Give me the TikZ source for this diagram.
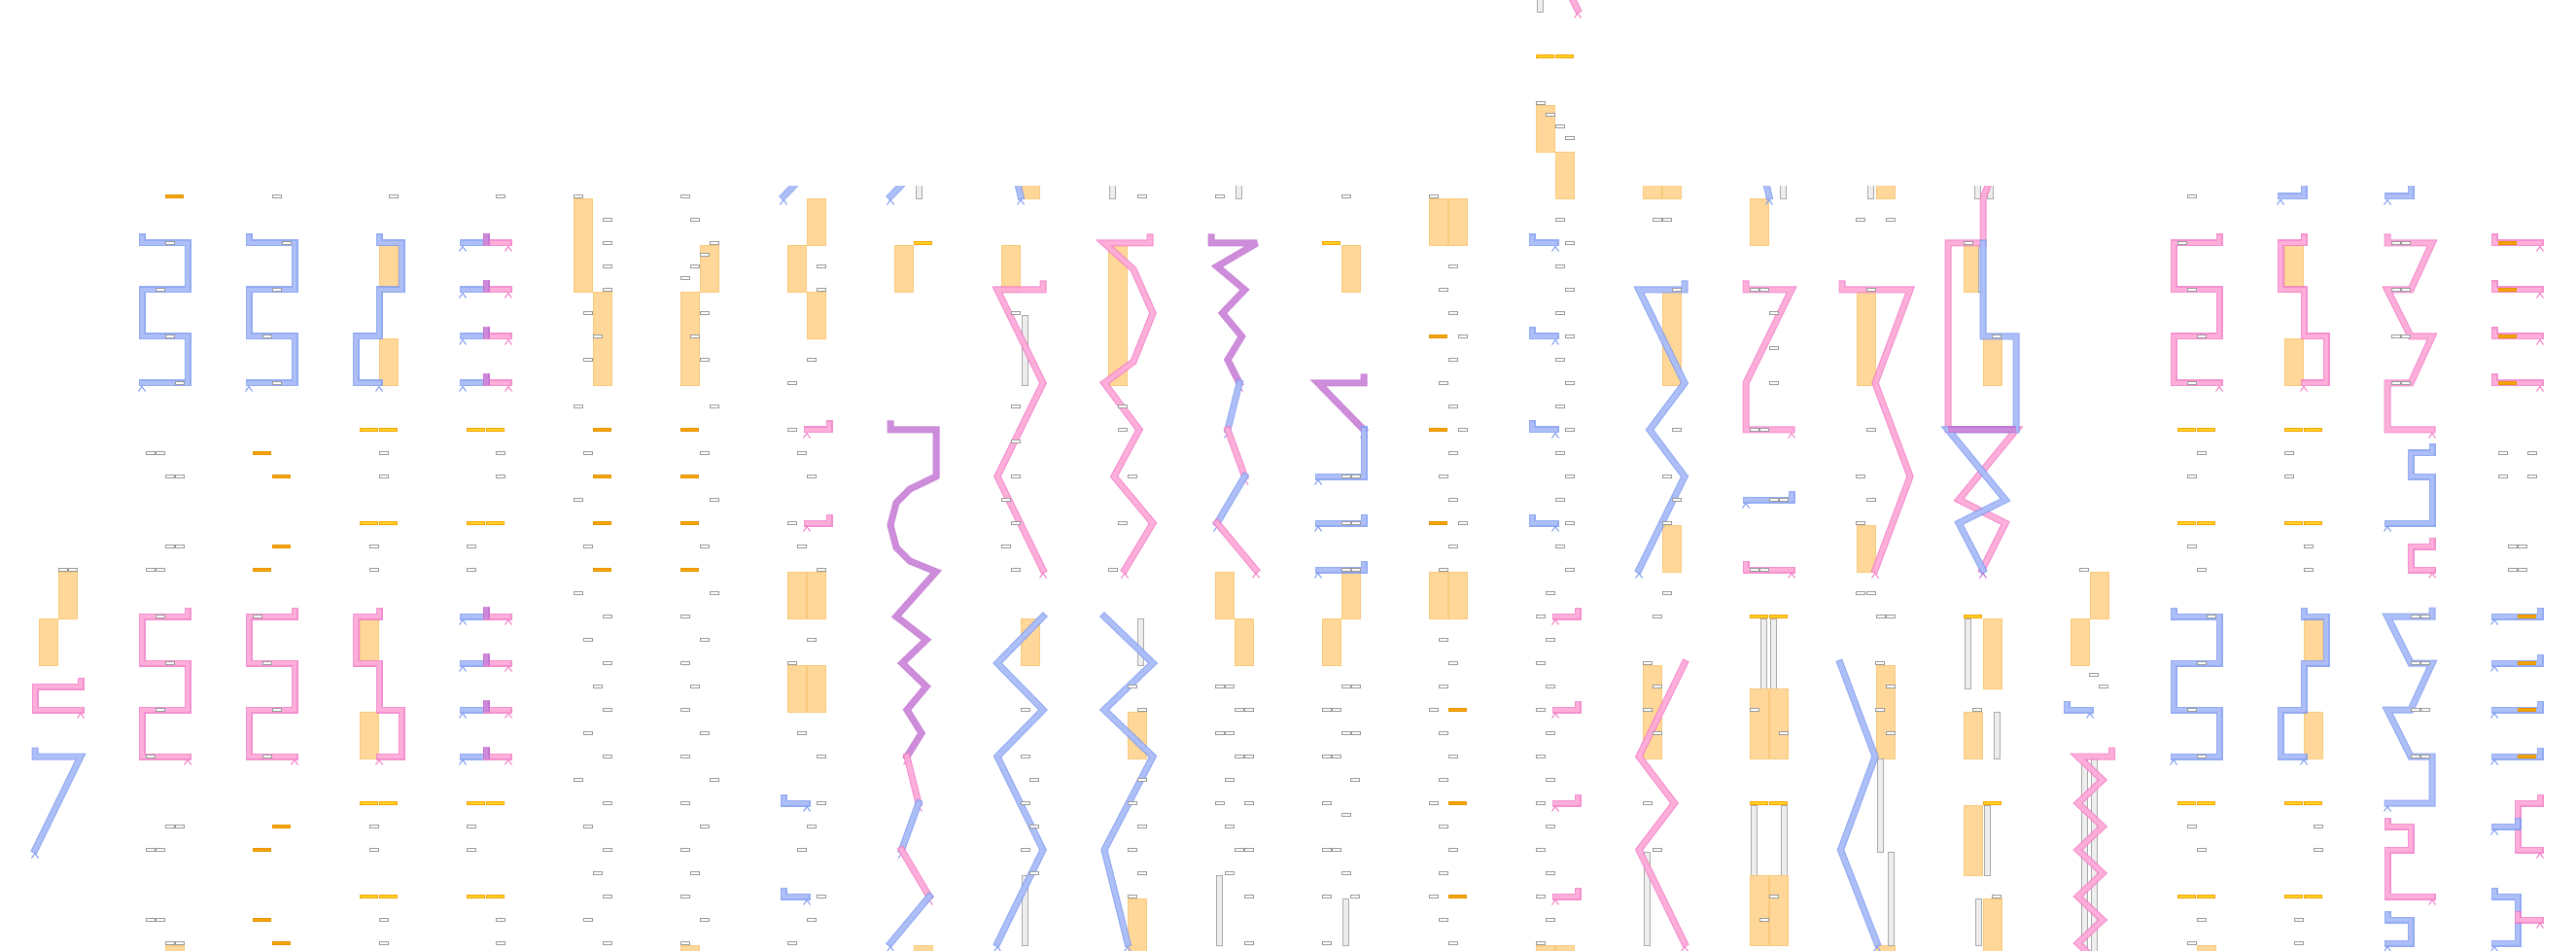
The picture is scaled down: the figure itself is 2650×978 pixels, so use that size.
\documentclass[tikz,border=0pt]{standalone}
\definecolor{bdk}{HTML}{7F9CF0}
\definecolor{blt}{HTML}{B3C2FA}
\definecolor{pdk}{HTML}{F27DC8}
\definecolor{plt}{HTML}{FFB3DB}
\definecolor{udk}{HTML}{C070D0}
\definecolor{ult}{HTML}{D08EDC}
\definecolor{orf}{HTML}{FED799}
\definecolor{ord}{HTML}{F9C97C}
\definecolor{dsf}{HTML}{F5A30A}
\definecolor{dsd}{HTML}{E59400}
\definecolor{ylf}{HTML}{FFD21F}
\definecolor{gbd}{HTML}{999999}
\definecolor{thf}{HTML}{EEEEEE}
\definecolor{thd}{HTML}{AAAAAA}
\tikzset{
  pathbase/.style={line width=0.6pt, double distance=2.3pt, line join=miter, miter limit=3, line cap=rect, opacity=0.85},
  bp/.style={pathbase, draw=bdk, double=blt},
  pp/.style={pathbase, draw=pdk, double=plt},
  up/.style={pathbase, draw=udk, double=ult},
  gbox/.style={draw=gbd, fill=white, line width=0.5pt},
  odash/.style={draw=dsd, fill=dsf, line width=0.4pt},
  ydash/.style={draw=dsf, fill=ylf, line width=0.4pt},
  orect/.style={fill=orf, draw=ord, line width=0.4pt},
  thinbar/.style={fill=thf, draw=thd, line width=0.4pt},
  bc/.style={draw=bdk, line width=0.5pt},
  pc/.style={draw=pdk, line width=0.5pt},
  uc/.style={draw=udk, line width=0.5pt}
}
\newcommand\gbx[2]{\draw[gbox] ({#1-4.5},{#2-1.3}) rectangle ({#1+4.5},{#2+1.3});}
\newcommand\pax[1]{\gbx{4.5}{#1}\gbx{14.5}{#1}}
\newcommand\pbx[1]{\gbx{24.5}{#1}\gbx{34.5}{#1}}
\newcommand\odx[2]{\draw[odash] (#1,{#2-1.5}) rectangle ({#1+18.5},{#2+1.5});}
\newcommand\ysx[2]{\draw[ydash] (#1,{#2-1.5}) rectangle ({#1+18.5},{#2+1.5});}
\newcommand\ydx[1]{\ysx{0}{#1}\ysx{20}{#1}}
\newcommand\orx[3]{\draw[orect] (#1,#2) rectangle ({#1+19},#3);}
\newcommand\thx[3]{\draw[thinbar] (#1,#2) rectangle ({#1+6},#3);}
\newcommand\carx[3]{\draw[#1] ({#2-3.5},{#3+8.5}) -- (#2,{#3+3.5}) -- ({#2+3.5},{#3+8.5});}
\newcommand\teex[1]{\draw[bp] (20,{#1-6}) -- (20,#1) -- (-4,#1); \draw[pp] (20,{#1-6}) -- (20,#1) -- (43,#1);
  \draw[up,line cap=butt] (20,{#1-10}) -- (20,{#1+2}); \carx{bc}{-4}{#1}\carx{pc}{43}{#1}}
\begin{document}
\begin{tikzpicture}[x=0.5pt,y=-0.5pt]
\useasboundingbox (0,0) rectangle (2650,978);
\clip (0,0) rectangle (2650,978);
\begin{scope}
\clip (0,192) rectangle (2650,978);
% ---- col 0
\begin{scope}[shift={(40,0)}]
\orx{20}{588}{636}\orx{0}{636}{684}
\draw[pp] (43,700) -- (43,706) -- (-4,706) -- (-4,730) -- (43,730); \carx{pc}{43}{730}
\draw[bp] (-4,772) -- (-4,778) -- (43,778) -- (-4,874); \carx{bc}{-4}{874}
\pbx{586}
\end{scope}
% ---- col 1
\begin{scope}[shift={(150,0)}]
\orx{20}{972}{990}
\odx{20}{202}
\draw[bp] (-4,244) -- (-4,250) -- (43,250) -- (43,298) -- (-4,298) -- (-4,346) -- (43,346) -- (43,394) -- (-4,394); \carx{bc}{-4}{394}
\gbx{24.5}{250}\gbx{14.5}{298}\gbx{24.5}{346}\gbx{34.5}{394}
\pax{466}\pbx{490}\pbx{562}\pax{586}
\draw[pp] (43,628) -- (43,634) -- (-4,634) -- (-4,682) -- (43,682) -- (43,730) -- (-4,730) -- (-4,778) -- (43,778); \carx{pc}{43}{778}
\gbx{14.5}{634}\gbx{24.5}{682}\gbx{14.5}{730}\gbx{4.5}{778}
\pbx{850}\pax{874}\pax{946}\pbx{970}
\end{scope}
% ---- col 2
\begin{scope}[shift={(260,0)}]
\gbx{24.5}{202}
\draw[bp] (-4,244) -- (-4,250) -- (43,250) -- (43,298) -- (-4,298) -- (-4,346) -- (43,346) -- (43,394) -- (-4,394); \carx{bc}{-4}{394}
\gbx{34.5}{250}\gbx{24.5}{298}\gbx{14.5}{346}\gbx{24.5}{394}
\odx{0}{466}\odx{20}{490}\odx{20}{562}\odx{0}{586}
\draw[pp] (43,628) -- (43,634) -- (-4,634) -- (-4,682) -- (43,682) -- (43,730) -- (-4,730) -- (-4,778) -- (43,778); \carx{pc}{43}{778}
\gbx{4.5}{634}\gbx{14.5}{682}\gbx{24.5}{730}\gbx{14.5}{778}
\odx{20}{850}\odx{0}{874}\odx{0}{946}\odx{20}{970}
\end{scope}
% ---- col 3
\begin{scope}[shift={(370,0)}]
\orx{20}{252}{300}\orx{20}{348}{396}
\draw[bp] (20,244) -- (20,250) -- (43,250) -- (43,298) -- (20,298) -- (20,346) -- (-4,346) -- (-4,394) -- (20,394); \carx{bc}{20}{394}
\gbx{34.5}{202}
\ydx{442}\gbx{24.5}{466}\gbx{24.5}{490}\ydx{538}\gbx{14.5}{562}\gbx{14.5}{586}
\orx{0}{636}{684}\orx{0}{732}{780}
\draw[pp] (20,628) -- (20,634) -- (-4,634) -- (-4,682) -- (20,682) -- (20,730) -- (43,730) -- (43,778) -- (20,778); \carx{pc}{20}{778}
\ydx{826}\gbx{14.5}{850}\gbx{14.5}{874}\ydx{922}\gbx{24.5}{946}\gbx{24.5}{970}
\end{scope}
% ---- col 4
\begin{scope}[shift={(480,0)}]
\gbx{34.5}{202}
\teex{250}\teex{298}\teex{346}\teex{394}
\ydx{442}\gbx{34.5}{466}\gbx{34.5}{490}\ydx{538}\gbx{4.5}{562}\gbx{4.5}{586}
\teex{634}\teex{682}\teex{730}\teex{778}
\ydx{826}\gbx{4.5}{850}\gbx{4.5}{874}\ydx{922}\gbx{34.5}{946}\gbx{34.5}{970}
\end{scope}
% ---- col 5
\begin{scope}[shift={(590,0)}]
\orx{0}{204}{300}\orx{20}{300}{396}
\gbx{4.5}{202}\gbx{34.5}{226}\gbx{34.5}{250}\gbx{34.5}{274}\gbx{34.5}{298}\gbx{14.5}{322}\gbx{24.5}{346}\gbx{14.5}{370}\gbx{4.5}{418}
\odx{20}{442}\gbx{14.5}{466}\odx{20}{490}\gbx{4.5}{514}\odx{20}{538}\gbx{14.5}{562}\odx{20}{586}
\gbx{4.5}{610}\gbx{34.5}{634}\gbx{14.5}{658}\gbx{34.5}{682}\gbx{24.5}{706}\gbx{34.5}{730}\gbx{14.5}{754}\gbx{34.5}{778}
\gbx{4.5}{802}\gbx{34.5}{826}\gbx{14.5}{850}\gbx{34.5}{874}\gbx{24.5}{898}\gbx{34.5}{922}\gbx{14.5}{946}\gbx{34.5}{970}
\end{scope}
% ---- col 6
\begin{scope}[shift={(700,0)}]
\orx{20}{252}{300}\orx{0}{300}{396}\orx{0}{972}{990}
\gbx{4.5}{202}\gbx{14.5}{226}\gbx{34.5}{250}\gbx{24.5}{262}\gbx{14.5}{274}\gbx{4.5}{286}\gbx{24.5}{322}\gbx{14.5}{346}\gbx{24.5}{370}\gbx{34.5}{418}
\odx{0}{442}\gbx{24.5}{466}\odx{0}{490}\gbx{34.5}{514}\odx{0}{538}\gbx{24.5}{562}\odx{0}{586}
\gbx{34.5}{610}\gbx{4.5}{634}\gbx{24.5}{658}\gbx{4.5}{682}\gbx{14.5}{706}\gbx{4.5}{730}\gbx{24.5}{754}\gbx{4.5}{778}
\gbx{34.5}{802}\gbx{4.5}{826}\gbx{24.5}{850}\gbx{4.5}{874}\gbx{14.5}{898}\gbx{4.5}{922}\gbx{24.5}{946}\gbx{4.5}{970}
\end{scope}
% ---- col 7
\begin{scope}[shift={(810,0)}]
\orx{20}{204}{252}\orx{0}{252}{300}\orx{20}{300}{348}
\orx{0}{588}{636}\orx{20}{588}{636}\orx{0}{684}{732}\orx{20}{684}{732}
\draw[bp] (43,154) -- (-4,202); \carx{bc}{-4}{202}
\draw[pp] (43,436) -- (43,442) -- (20,442); \carx{pc}{20}{442}
\draw[pp] (43,532) -- (43,538) -- (20,538); \carx{pc}{20}{538}
\draw[bp] (-4,820) -- (-4,826) -- (20,826); \carx{bc}{20}{826}
\draw[bp] (-4,916) -- (-4,922) -- (20,922); \carx{bc}{20}{922}
\gbx{34.5}{274}\gbx{34.5}{298}\gbx{24.5}{370}\gbx{4.5}{394}\gbx{4.5}{442}\gbx{14.5}{466}\gbx{24.5}{490}\gbx{4.5}{538}\gbx{14.5}{562}\gbx{34.5}{586}
\gbx{24.5}{658}\gbx{4.5}{682}\gbx{14.5}{754}\gbx{34.5}{778}\gbx{34.5}{826}\gbx{24.5}{850}\gbx{14.5}{874}\gbx{34.5}{922}\gbx{24.5}{946}\gbx{4.5}{970}
\end{scope}
% ---- col 8
\begin{scope}[shift={(920,0)}]
\thx{22}{186}{204}
\orx{0}{252}{300}\orx{20}{972}{990}
\ysx{20}{250}
\draw[bp] (43,154) -- (-4,202); \carx{bc}{-4}{202}
\draw[up] (-4,436) -- (-4,442) -- (43,442) -- (43,490) -- (16,503) -- (2,517) -- (-4,540) -- (2,563) -- (16,577) -- (43,588) -- (2,634) -- (33,658) -- (8,682) -- (33,706) -- (13,730) -- (28,754) -- (13,778); \carx{pc}{13}{778}
\draw[pp] (13,778) -- (25,826); \carx{pc}{25}{826}
\draw[bp] (25,826) -- (7.5,874); \carx{bc}{7.5}{874}
\draw[pp] (7.5,874) -- (36,922); \carx{pc}{36}{922}
\draw[bp] (36,922) -- (-4,970); \carx{bc}{-4}{970}
\end{scope}
% ---- col 9
\begin{scope}[shift={(1030,0)}]
\orx{20}{186}{204}\orx{0}{252}{300}\orx{20}{636}{684}
\thx{21}{324}{396}\thx{21}{900}{972}
\draw[bp] (-3,106) -- (20,202); \carx{bc}{20}{202}
\draw[pp] (43,292) -- (43,298) -- (-4,298) -- (43,394) -- (-4,490) -- (43,586); \carx{pc}{43}{586}
\draw[bp] (43,634) -- (-4,682) -- (43,730) -- (-4,778) -- (43,874) -- (-4,970); \carx{bc}{-4}{970}
\gbx{14.5}{322}\gbx{14.5}{418}\gbx{14.5}{454}\gbx{14.5}{490}\gbx{4.5}{514}\gbx{14.5}{538}\gbx{4.5}{562}\gbx{14.5}{586}
\gbx{24.5}{730}\gbx{24.5}{778}\gbx{34}{802}\gbx{24.5}{826}\gbx{34}{850}\gbx{24.5}{874}\gbx{34}{898}
\end{scope}
% ---- col 10
\begin{scope}[shift={(1140,0)}]
\thx{1.5}{186}{204}\thx{30}{636}{684}
\orx{0}{252}{396}\orx{20}{732}{780}\orx{20}{924}{990}
\draw[pp] (43,244) -- (43,250) -- (-4,250) -- (26,277) -- (46,322) -- (26,372) -- (-4,394) -- (32,442) -- (6,490) -- (46,538) -- (17,586); \carx{pc}{17}{586}
\draw[bp] (-4,634) -- (46,682) -- (-4,730) -- (46,778) -- (-4,874) -- (20,970); \carx{bc}{20}{970}
\gbx{34.5}{202}\gbx{14.5}{418}\gbx{14.5}{442}\gbx{24.5}{490}\gbx{14.5}{538}\gbx{4.5}{586}
\gbx{24.5}{706}\gbx{34.5}{730}\gbx{34.5}{802}\gbx{24.5}{826}\gbx{34.5}{850}\gbx{24.5}{874}\gbx{34.5}{898}\gbx{24.5}{922}
\end{scope}
% ---- col 11
\begin{scope}[shift={(1250,0)}]
\thx{21}{186}{204}\thx{1}{900}{972}
\orx{0}{588}{636}\orx{20}{636}{684}
\draw[up] (-4,244) -- (-4,250) -- (43,250) -- (2,274) -- (30.5,298) -- (7.5,322) -- (27.5,346) -- (13,370) -- (25,394); \carx{pc}{25}{394}
\draw[bp] (25,394) -- (13,442); \carx{bc}{13}{442}
\draw[pp] (13,442) -- (30.5,490); \carx{pc}{30.5}{490}
\draw[bp] (30.5,490) -- (2,538); \carx{bc}{2}{538}
\draw[pp] (2,538) -- (42,586); \carx{pc}{42}{586}
\gbx{4.5}{202}
\pax{706}\pbx{730}\pax{754}\pbx{778}\gbx{14.5}{802}\gbx{4.5}{826}\gbx{34.5}{826}\gbx{14.5}{850}\pbx{874}\gbx{14.5}{898}\gbx{34.5}{922}\gbx{34.5}{970}
\end{scope}
% ---- col 12
\begin{scope}[shift={(1360,0)}]
\orx{20}{252}{300}\orx{20}{588}{636}\orx{0}{636}{684}
\thx{21}{924}{972}
\ysx{0}{250}
\draw[up] (43,388) -- (43,394) -- (-4,394) -- (43,442); \carx{pc}{43}{442}
\draw[bp] (43,442) -- (43,490) -- (-4,490); \carx{bc}{-4}{490}
\draw[bp] (43,532) -- (43,538) -- (-4,538); \carx{bc}{-4}{538}
\draw[bp] (43,580) -- (43,586) -- (-4,586); \carx{bc}{-4}{586}
\gbx{24.5}{202}\pbx{490}\pbx{538}\pbx{586}
\pbx{706}\pax{730}\pbx{754}\pax{778}\gbx{34}{802}\gbx{4.5}{826}\gbx{24.5}{838}\pax{874}\gbx{24.5}{898}\gbx{4.5}{922}\gbx{34}{922}\gbx{4.5}{970}
\end{scope}
% ---- col 13
\begin{scope}[shift={(1470,0)}]
\orx{0}{204}{252}\orx{20}{204}{252}\orx{0}{588}{636}\orx{20}{588}{636}
\gbx{4.5}{202}\gbx{24.5}{274}\gbx{14.5}{298}\gbx{24.5}{322}\gbx{34.5}{346}\odx{0}{346}\gbx{24.5}{370}\gbx{14.5}{394}\gbx{24.5}{418}
\odx{0}{442}\gbx{34.5}{442}\gbx{24.5}{466}\gbx{14.5}{490}\gbx{24.5}{514}\odx{0}{538}\gbx{34.5}{538}\gbx{24.5}{562}\gbx{14.5}{586}
\gbx{14.5}{658}\gbx{24.5}{682}\gbx{14.5}{706}\gbx{4.5}{730}\odx{20}{730}\gbx{14.5}{754}\gbx{24.5}{778}\gbx{14.5}{802}
\gbx{4.5}{826}\odx{20}{826}\gbx{14.5}{850}\gbx{24.5}{874}\gbx{14.5}{898}\gbx{4.5}{922}\odx{20}{922}\gbx{14.5}{946}\gbx{24.5}{970}
\end{scope}
% ---- col 15
\begin{scope}[shift={(1690,0)}]
\orx{0}{186}{204}\orx{20}{186}{204}\orx{20}{300}{396}\orx{20}{540}{588}\orx{0}{684}{780}
\thx{1}{876}{972}
\draw[bp] (43,292) -- (43,298) -- (-4,298) -- (43,394) -- (7,442) -- (43,490) -- (-4,586); \carx{bc}{-4}{586}
\draw[pp] (43,682) -- (-4,778) -- (32.5,826) -- (-4,874) -- (43,970); \carx{pc}{43}{970}
\gbx{14.5}{226}\gbx{24.5}{226}\gbx{34.5}{298}\gbx{34.5}{442}\gbx{24.5}{490}\gbx{34.5}{514}\gbx{24.5}{538}
\gbx{24.5}{610}\gbx{14.5}{634}\gbx{4.5}{682}\gbx{14.5}{706}\gbx{4.5}{730}\gbx{14.5}{754}\gbx{4.5}{826}\gbx{14.5}{874}
\end{scope}
% ---- col 16
\begin{scope}[shift={(1800,0)}]
\thx{31}{186}{204}\orx{0}{204}{252}
\thx{11}{636}{708}\thx{21}{636}{708}\orx{0}{708}{780}\orx{20}{708}{780}
\thx{1}{828}{900}\thx{32}{828}{900}\orx{0}{900}{972}\orx{20}{900}{972}
\draw[bp] (-3,106) -- (20,202); \carx{bc}{20}{202}
\draw[pp] (-4,292) -- (-4,298) -- (43,298) -- (-4,394) -- (-4,442) -- (43,442); \carx{pc}{43}{442}
\draw[bp] (43,508) -- (43,514) -- (-4,514); \carx{bc}{-4}{514}
\draw[pp] (-4,580) -- (-4,586) -- (43,586); \carx{pc}{43}{586}
\ydx{634}\ydx{826}
\pax{298}\gbx{24.5}{322}\gbx{24.5}{358}\gbx{24.5}{394}\pax{442}\pbx{514}\pax{586}\gbx{4.5}{730}\gbx{34.5}{754}\gbx{24.5}{922}\gbx{14.5}{946}
\end{scope}
% ---- col 17
\begin{scope}[shift={(1910,0)}]
\thx{11}{186}{204}\orx{20}{186}{204}
\orx{0}{300}{396}\orx{0}{540}{588}\orx{20}{684}{780}\orx{20}{972}{990}
\thx{21}{780}{876}\thx{32}{876}{972}
\draw[pp] (-15,292) -- (-15,298) -- (55,298) -- (19,394) -- (55,490) -- (19,586); \carx{pc}{19}{586}
\draw[bp] (-17,682) -- (19,778) -- (-16.5,874) -- (21,970); \carx{bc}{21}{970}
\gbx{4}{226}\gbx{34.5}{226}\gbx{14.5}{298}\gbx{14.5}{442}\gbx{4}{490}\gbx{14.5}{514}\gbx{4}{538}\gbx{4}{610}\gbx{14.5}{610}\pbx{634}
\gbx{24}{682}\gbx{34.5}{706}\gbx{24}{730}\gbx{34.5}{754}
\end{scope}
% ---- col 18
\begin{scope}[shift={(2020,0)}]
\thx{11}{186}{204}\thx{24}{186}{204}
\orx{0}{252}{300}\thx{15}{252}{300}\orx{20}{348}{396}
\ysx{0}{634}\thx{1.5}{636}{708}\orx{20}{636}{708}\orx{0}{732}{780}\thx{31}{732}{780}
\ysx{20}{826}\orx{0}{828}{900}\thx{21.5}{828}{900}\orx{20}{924}{990}\thx{12}{924}{972}
\draw[pp] (30,178) -- (20,204) -- (20,250) -- (-16,250) -- (-16,442) -- (54,442) -- (-5,514) -- (43,538) -- (19,586);
\draw[bp] (20,250) -- (20,346) -- (54,346) -- (54,442) -- (-16,442) -- (43,514) -- (-5,538) -- (20,586);
\draw[up,line cap=butt] (-16,442) -- (54,442);
\carx{uc}{20}{586}
\gbx{4.5}{250}\gbx{34}{346}\gbx{14}{730}\gbx{34}{922}
\end{scope}
% ---- col 19
\begin{scope}[shift={(2130,0)}]
\orx{20}{588}{636}\orx{0}{636}{684}
\thx{11.5}{780}{990}\thx{21}{780}{990}
\draw[bp] (-4,724) -- (-4,730) -- (20,730); \carx{bc}{20}{730}
\draw[pp] (42.5,772) -- (42.5,778) -- (7.5,778) -- (33,802) -- (7.5,826) -- (33,850) -- (7.5,874) -- (33,898) -- (7.5,922) -- (33,946) -- (7.5,970) -- (33,994);
\gbx{14}{586}\gbx{24}{694}\gbx{34}{706}
\end{scope}
% ---- col 20
\begin{scope}[shift={(2240,0)}]
\orx{20}{972}{990}
\draw[pp] (43,244) -- (43,250) -- (-4,250) -- (-4,298) -- (43,298) -- (43,346) -- (-4,346) -- (-4,394) -- (43,394); \carx{pc}{43}{394}
\draw[bp] (-4,628) -- (-4,634) -- (43,634) -- (43,682) -- (-4,682) -- (-4,730) -- (43,730) -- (43,778) -- (-4,778); \carx{bc}{-4}{778}
\gbx{14.5}{202}\gbx{4.5}{250}\gbx{14.5}{298}\gbx{24.5}{346}\gbx{14.5}{394}
\ydx{442}\gbx{24.5}{466}\gbx{14.5}{490}\ydx{538}\gbx{14.5}{562}\gbx{24.5}{586}
\gbx{34.5}{634}\gbx{24.5}{682}\gbx{14.5}{730}\gbx{24.5}{778}
\ydx{826}\gbx{14.5}{850}\gbx{24.5}{874}\ydx{922}\gbx{24.5}{946}\gbx{14.5}{970}
\end{scope}
% ---- col 21
\begin{scope}[shift={(2350,0)}]
\orx{0}{252}{300}\orx{0}{348}{396}\orx{20}{636}{684}\orx{20}{732}{780}
\draw[bp] (20,180) -- (20,202) -- (-4,202); \carx{bc}{-4}{202}
\draw[pp] (20,244) -- (20,250) -- (-4,250) -- (-4,298) -- (20,298) -- (20,346) -- (43,346) -- (43,394) -- (20,394); \carx{pc}{20}{394}
\draw[bp] (20,628) -- (20,634) -- (43,634) -- (43,682) -- (20,682) -- (20,730) -- (-4,730) -- (-4,778) -- (20,778); \carx{bc}{20}{778}
\ydx{442}\gbx{4.5}{466}\gbx{4.5}{490}\ydx{538}\gbx{24.5}{562}\gbx{24.5}{586}
\ydx{826}\gbx{34.5}{850}\gbx{34.5}{874}\ydx{922}\gbx{14.5}{946}\gbx{14.5}{970}
\end{scope}
% ---- col 22
\begin{scope}[shift={(2460,0)}]
\draw[bp] (20,180) -- (20,202) -- (-4,202); \carx{bc}{-4}{202}
\draw[pp] (-4,244) -- (-4,250) -- (42,250) -- (20,298) -- (-4,298) -- (20,346) -- (42,346) -- (20,394) -- (-4,394) -- (-4,442) -- (42,442); \carx{pc}{42}{442}
\draw[bp] (42,460) -- (42,466) -- (20,466) -- (20,490) -- (42,490) -- (42,538) -- (-4,538); \carx{bc}{-4}{538}
\draw[pp] (42,556) -- (42,562) -- (20,562) -- (20,586) -- (42,586); \carx{pc}{42}{586}
\draw[bp] (42,628) -- (42,634) -- (-4,634) -- (20,682) -- (42,682) -- (20,730) -- (-4,730) -- (20,778) -- (42,778) -- (42,826) -- (-4,826); \carx{bc}{-4}{826}
\draw[pp] (-4,844) -- (-4,850) -- (20,850) -- (20,874) -- (-4,874) -- (-4,922) -- (42,922); \carx{pc}{42}{922}
\draw[bp] (-4,940) -- (-4,946) -- (20,946) -- (20,970) -- (-4,970); \carx{bc}{-4}{970}
\pax{250}\pax{298}\pax{346}\pax{394}\pbx{634}\pbx{682}\pbx{730}\pbx{778}
\end{scope}
% ---- col 23
\begin{scope}[shift={(2570,0)}]
\foreach \y in {250,298,346,394} {\draw[pp] (-4,\y-6) -- (-4,\y) -- (43,\y); \carx{pc}{43}{\y}\odx{0}{\y}}
\gbx{4.5}{466}\gbx{34.5}{466}\gbx{4.5}{490}\gbx{34.5}{490}\gbx{14.5}{562}\gbx{24.5}{562}\gbx{14.5}{586}\gbx{24.5}{586}
\foreach \y in {634,682,730,778} {\draw[bp] (43,\y-6) -- (43,\y) -- (-4,\y); \carx{bc}{-4}{\y}\odx{20}{\y}}
\draw[pp] (43,820) -- (43,826) -- (20,826) -- (20,874) -- (43,874); \carx{pc}{43}{874}
\draw[bp] (20,844) -- (20,850) -- (-4,850); \carx{bc}{-4}{850}
\draw[bp] (-4,916) -- (-4,922) -- (20,922) -- (20,970) -- (-4,970); \carx{bc}{-4}{970}
\draw[pp] (20,940) -- (20,946) -- (43,946); \carx{pc}{43}{946}
\end{scope}
\end{scope}
% ---- col 14 (reaches the top)
\begin{scope}[shift={(1580,0)}]
\thx{1}{-5}{12}
\orx{0}{108}{156}\orx{20}{156}{204}\orx{0}{972}{990}\orx{20}{972}{990}
\draw[pp] (33,-10) -- (43,10); \carx{pc}{43}{10}
\ydx{58}
\gbx{4.5}{106}\gbx{14.5}{118}\gbx{24.5}{130}\gbx{34.5}{142}
\foreach \y in {250,346,442,538} {\draw[bp] (-4,\y-6) -- (-4,\y) -- (20,\y); \carx{bc}{20}{\y}}
\foreach \y in {634,730,826,922} {\draw[pp] (43,\y-6) -- (43,\y) -- (20,\y); \carx{pc}{20}{\y}}
\foreach \y in {226,274,...,562} {\gbx{24.5}{\y}}
\foreach \y in {250,298,...,586} {\gbx{34.5}{\y}}
\foreach \y in {610,658,...,946} {\gbx{14.5}{\y}}
\foreach \y in {634,682,...,970} {\gbx{4.5}{\y}}
\end{scope}
\end{tikzpicture}
\end{document}
